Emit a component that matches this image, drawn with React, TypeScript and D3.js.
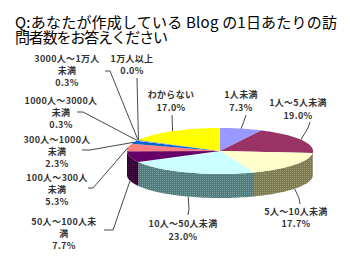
import React from "react";
import * as d3 from "d3";

const categories = [
  "1人未満",
  "1人～5人未満",
  "5人～10人未満",
  "10人～50人未満",
  "50人～100人未満",
  "100人～300人未満",
  "300人～1000人未満",
  "1000人～3000人未満",
  "3000人～1万人未満",
  "1万人以上",
  "わからない",
];
const values = [7.3, 19.0, 17.7, 23.0, 7.7, 5.3, 2.3, 0.3, 0.3, 0.0, 17.0];
const labelLines = [
  ["1人未満"],
  ["1人～5人未満"],
  ["5人～10人未満"],
  ["10人～50人未満"],
  ["50人～100人未", "満"],
  ["100人～300人", "未満"],
  ["300人～1000人", "未満"],
  ["1000人～3000人", "未満"],
  ["3000人～1万人", "未満"],
  ["1万人以上"],
  ["わからない"],
];
const titleLines = ["Q:あなたが作成している Blog の1日あたりの訪", "問者数をお答えください"];
const topColors = ["#9999FF", "#993366", "#FFFFCC", "#CCFFFF", "#660066", "#FF8080", "#0066CC", "#CCCCFF", "#000080", "#FF00FF", "#FFFF00"];
const sideColors = ["#4a4a99", "#4d1a33", "#7c7a52", "#527a7a", "#330033", "#994d4d", "#003366", "#66667f", "#000040", "#800080", "#808000"];
const sideDots = ["#6a6ab0", "#6a3050", "#a09d72", "#76a0a0", "#4a154a", "#b06666", "#204d80", "#8080a0", "#202060", "#a020a0", "#a0a020"];

// layout: label centre x, line centre ys, leader polyline start points (end computed from pie)
const layout = [
  { x: 241, ys: [95, 108], lead: [[246, 115], [244, 121]] },
  { x: 298, ys: [103, 116], lead: [[310, 122], [308, 128]] },
  { x: 296, ys: [212, 224], lead: [[300, 204], [299, 198]] },
  { x: 183, ys: [224, 237], lead: [[188, 215], [189, 209]] },
  { x: 64, ys: [222, 234, 246], lead: [[104, 230], [113, 230]] },
  { x: 57, ys: [178, 190, 202], lead: [[88, 188], [93, 188]] },
  { x: 57, ys: [140, 152, 164], lead: [[82, 150], [90, 150]] },
  { x: 61, ys: [101, 113, 125], lead: [[77, 112], [83, 112]] },
  { x: 67, ys: [59, 71, 83], lead: [[105, 71], [110, 71]] },
  { x: 132, ys: [59, 71], lead: [[137, 78]] },
  { x: 171, ys: [95, 108], lead: [[172, 115]] },
];

const W = 350, H = 260;
const cx = 220, cy = 151, rx = 93, ry = 23, depth = 24;

const pt = (a: number, dy = 0): [number, number] => [cx + rx * Math.sin(a), cy - ry * Math.cos(a) + dy];

function arcPoints(a0: number, a1: number, dy = 0) {
  const n = Math.max(2, Math.ceil(((a1 - a0) / (2 * Math.PI)) * 180));
  return d3.range(n + 1).map((i) => pt(a0 + ((a1 - a0) * i) / n, dy));
}

export default function App() {
  const arcs = d3.pie<number>().sort(null).startAngle(0).endAngle(2 * Math.PI)(values);
  const line = d3.line();
  const fontJP = "'Noto Sans CJK JP', 'Noto Sans', sans-serif";

  return (
    <svg width={W} height={H} style={{ position: "absolute", left: 0, top: 0, background: "#fff" }} fontFamily={fontJP}>
      <defs>
        {sideColors.map((c, i) => (
          <pattern key={i} id={"dots" + i} width={2} height={2} patternUnits="userSpaceOnUse">
            <rect width={2} height={2} fill={c} />
            <rect width={1} height={1} fill={sideDots[i]} />
          </pattern>
        ))}
      </defs>
      <rect width={W} height={H} fill="#fff" />
      <text x={15} y={28} fontSize={15} fill="#000" textLength={322} lengthAdjust="spacing">{titleLines[0]}</text>
      <text x={15} y={43} fontSize={15} fill="#000" textLength={153} lengthAdjust="spacing">{titleLines[1]}</text>
      {/* sides */}
      {arcs.map((a, i) => {
        const s = Math.max(a.startAngle, Math.PI / 2);
        const e = Math.min(a.endAngle, (3 * Math.PI) / 2);
        if (e <= s) return null;
        const top = arcPoints(s, e);
        const bot = arcPoints(s, e, depth).reverse();
        return <path key={"s" + i} d={line([...top, ...bot])! + "Z"} fill={`url(#dots${i})`} />;
      })}
      {/* tops */}
      {arcs.map((a, i) => {
        if (a.endAngle - a.startAngle <= 0) return null;
        const p = [[cx, cy] as [number, number], ...arcPoints(a.startAngle, a.endAngle)];
        return <path key={"t" + i} d={line(p)! + "Z"} fill={topColors[i]} />;
      })}
      {/* labels */}
      {arcs.map((a, i) => {
        const L = layout[i];
        const mid = (a.startAngle + a.endAngle) / 2;
        const front = mid > Math.PI / 2 && mid < (3 * Math.PI) / 2 && a.endAngle - a.startAngle > 0.3;
        const end = pt(mid, front ? depth : 0);
        const pts = [...(L.lead as [number, number][]), end];
        const lines = [...labelLines[i], values[i].toFixed(1) + "%"];
        return (
          <g key={"l" + i}>
            <path d={line(pts)!} fill="none" stroke="#333" strokeWidth={0.9} />
            {lines.map((t, j) => (
              <text key={j} x={L.x} y={L.ys[j] + 3.3} fontSize={9} fontWeight="bold" fill="#333" textAnchor="middle" letterSpacing={0.3}>
                {t}
              </text>
            ))}
          </g>
        );
      })}
    </svg>
  );
}
